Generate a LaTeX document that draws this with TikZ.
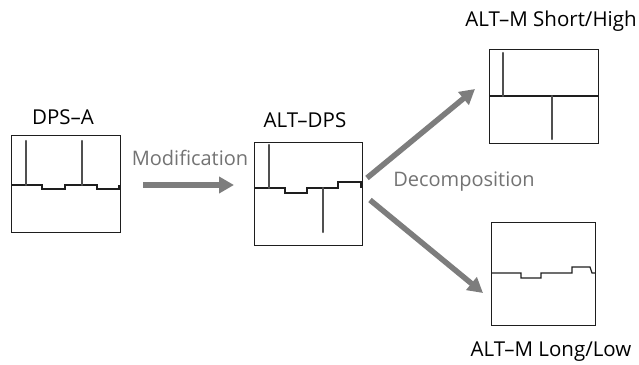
\documentclass[tikz,border=0pt]{standalone}
\usepackage{fontspec}
\setmainfont{Open Sans}
\usetikzlibrary{arrows.meta, positioning, calc}
\definecolor{frameDark}{RGB}{30, 30, 30}
\definecolor{arrowGray}{RGB}{125, 125, 125}
\definecolor{labelGray}{RGB}{115, 115, 115}
\definecolor{spikeGray}{RGB}{80, 80, 80}

\begin{document}
\begin{tikzpicture}[
    x=1pt, y=-1pt,
    scopeBox/.style={rectangle, draw=frameDark, line width=1.4pt, inner sep=0pt, anchor=north west},
    traceLine/.style={draw=frameDark, line width=1.2pt},
    spikeLine/.style={draw=spikeGray, line width=2.4pt, line cap=round},
    flowArrow/.style={draw=arrowGray, line width=5.5pt, -{Triangle[width=16pt, length=15pt]}},
    titleText/.style={font=\fontsize{20.5}{24}\selectfont, text=black, inner sep=0pt},
    stepText/.style={font=\fontsize{20}{24}\selectfont, text=labelGray, inner sep=0pt}
  ]
    \useasboundingbox (0,0) rectangle (639,364);

    % Scope windows
    \node[scopeBox, minimum width=109pt, minimum height=97pt] (dpsa) at (11,135) {};
    \node[scopeBox, minimum width=108pt, minimum height=103pt] (altdps) at (254,142) {};
    \node[scopeBox, minimum width=109pt, minimum height=94pt] (shorthigh) at (489,49) {};
    \node[scopeBox, minimum width=104pt, minimum height=103pt] (longlow) at (491,222) {};

    % Titles
    \node[titleText] (dpsaLbl) at (63,117) {DPS--A};
    \node[titleText] (altdpsLbl) at (305,120) {ALT--DPS};
    \node[titleText] (shorthighLbl) at (551,21) {ALT--M Short/High};
    \node[titleText] (longlowLbl) at (551,352) {ALT--M Long/Low};

    % DPS-A trace
    \draw[traceLine] (11,185) -- (42,185) -- (42,189) -- (65,189) -- (65,185)
      -- (97,185) -- (97,189) -- (119,189) -- (119,185);
    \draw[spikeLine] (26,185) -- (26,141);
    \draw[spikeLine] (82,185) -- (82,141);

    % ALT-DPS trace
    \draw[traceLine] (254,188) -- (285,188) -- (285,193) -- (307,193) -- (307,188)
      -- (338,188) -- (338,182) -- (361,182) -- (361,188);
    \draw[spikeLine] (269,188) -- (269,145);
    \draw[spikeLine] (323,188) -- (323,232);

    % ALT-M Short/High trace
    \draw[traceLine] (489,96) -- (598,96);
    \draw[spikeLine] (503,96) -- (503,53);
    \draw[spikeLine] (552,96) -- (552,139);

    % ALT-M Long/Low trace
    \draw[traceLine] (491,273) -- (521,273) -- (521,278) -- (541,278) -- (541,273)
      -- (572,273) -- (572,267) -- (590,267) -- (592,273) -- (595,273);

    % Processing steps
    \coordinate (modStart) at (143,185);
    \coordinate (modEnd) at (234,185);
    \draw[flowArrow] (modStart) -- (modEnd);
    \node[stepText] (modLbl) at (190,158) {Modification};
    \coordinate (upStart) at (367,178);
    \coordinate (upEnd) at (475,89);
    \coordinate (downStart) at (370,200);
    \coordinate (downEnd) at (483,293);
    \draw[flowArrow] (upStart) -- (upEnd);
    \draw[flowArrow] (downStart) -- (downEnd);
    \node[stepText] (decompLbl) at (464,182) {Decomposition};
  \end{tikzpicture}
\end{document}
